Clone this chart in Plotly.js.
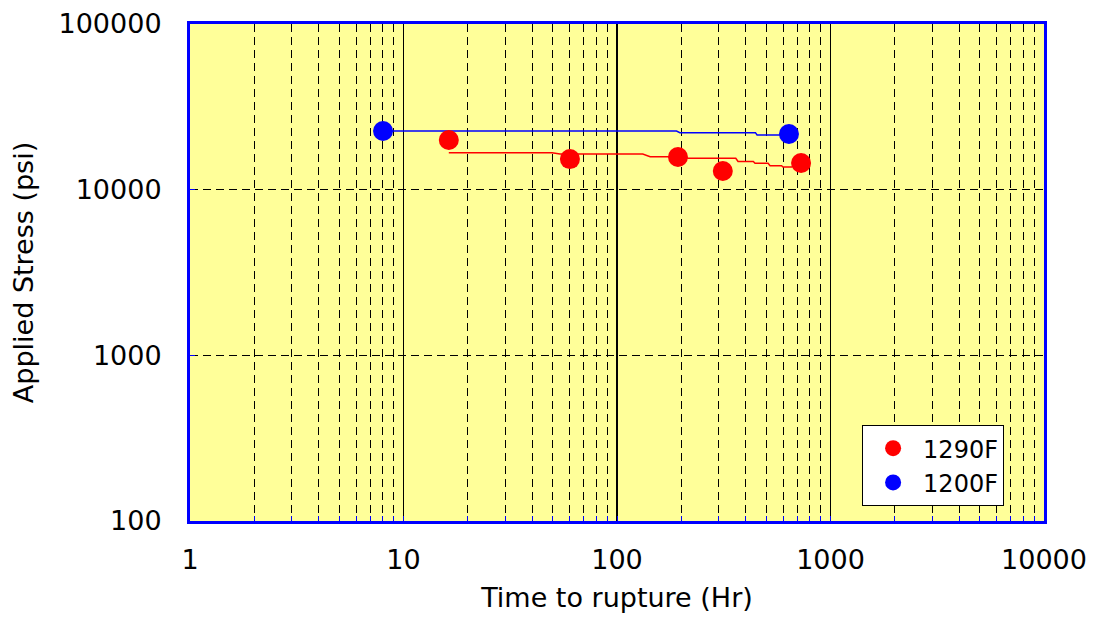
<!DOCTYPE html>
<html>
<head>
<meta charset="utf-8">
<script src="https://cdn.plot.ly/plotly-3.0.1.min.js"></script>
<style>html,body{margin:0;padding:0;background:#fff;}#chart{width:1093px;height:618px;}</style>
</head>
<body>
<div id="chart"></div>
<script>
// Data
const red_name = "1290F";
const red_time = [16.3, 60.2, 193, 313, 728];
const red_stress = [19950, 15300, 15740, 12970, 14490];
const red_fit_time = [16.3, 49.6, 54.1, 132, 143, 205, 215, 360, 369, 435, 443, 510, 521, 590, 599, 660];
const red_fit_stress = [16720, 16720, 16420, 16420, 15800, 15800, 15460, 15460, 14800, 14800, 14450, 14450, 13960, 13960, 13700, 13700];

const blue_name = "1200F";
const blue_time = [8.02, 639];
const blue_stress = [22600, 21680];
const blue_fit_time = [8.02, 190, 197, 445, 453, 639];
const blue_fit_stress = [22600, 22600, 22080, 22080, 21380, 21380];

const x_tickvals = [1, 10, 100, 1000, 10000];
const x_ticktext = ["1", "10", "100", "1000", "10000"];
const y_tickvals = [100, 1000, 10000, 100000];
const y_ticktext = ["100", "1000", "10000", "100000"];

const FONT = "DejaVu Sans, Verdana, sans-serif";

const traces = [
  {x: red_fit_time, y: red_fit_stress, mode: "lines", line: {color: "#FF0000", width: 1.5}, showlegend: false, hoverinfo: "skip"},
  {x: blue_fit_time, y: blue_fit_stress, mode: "lines", line: {color: "#0000FF", width: 1.5}, showlegend: false, hoverinfo: "skip"},
  {x: red_time, y: red_stress, mode: "markers", name: red_name, marker: {color: "#FF0000", size: 20}},
  {x: blue_time, y: blue_stress, mode: "markers", name: blue_name, marker: {color: "#0000FF", size: 20}}
];

const layout = {
  width: 1093, height: 618,
  margin: {l: 190, r: 49, t: 24, b: 97},
  paper_bgcolor: "#FFFFFF",
  plot_bgcolor: "#FFFF99",
  font: {family: FONT, color: "#000000", size: 24},
  showlegend: true,
  legend: {
    x: 0.787, y: 0.193, xanchor: "left", yanchor: "top",
    bgcolor: "#FFFFFF", bordercolor: "#000000", borderwidth: 1,
    font: {family: FONT, size: 24, color: "#000000"},
    itemwidth: 50,
    tracegroupgap: 0
  },
  xaxis: {
    type: "log", range: [0, 4],
    tickvals: x_tickvals, ticktext: x_ticktext,
    tickfont: {family: FONT, size: 27},
    ticks: "inside", ticklen: 5, tickcolor: "#0000FF", tickwidth: 1,
    showline: true, linecolor: "#0000FF", linewidth: 3, mirror: true,
    showgrid: true, gridcolor: "#000000", gridwidth: 1.8,
    minor: {dtick: "D1", showgrid: true, gridcolor: "#000000", gridwidth: 1, griddash: "8px,5px", ticks: "inside", ticklen: 5, tickcolor: "#0000FF"},
    ticklabelstandoff: 13,
    title: {text: "Time to rupture (Hr)", font: {family: FONT, size: 27}, standoff: 14},
    zeroline: false
  },
  yaxis: {
    type: "log", range: [2, 5],
    tickvals: y_tickvals, ticktext: y_ticktext,
    tickfont: {family: FONT, size: 27},
    ticks: "inside", ticklen: 5, tickcolor: "#0000FF", tickwidth: 1,
    showline: true, linecolor: "#0000FF", linewidth: 3, mirror: true,
    showgrid: true, gridcolor: "#000000", gridwidth: 1, griddash: "8px,5px",
    ticklabelstandoff: 20,
    title: {text: "Applied Stress (psi)", font: {family: FONT, size: 27}, standoff: 18},
    zeroline: false
  }
};

Plotly.newPlot("chart", traces, layout, {displayModeBar: false, staticPlot: true});
</script>
</body>
</html>
